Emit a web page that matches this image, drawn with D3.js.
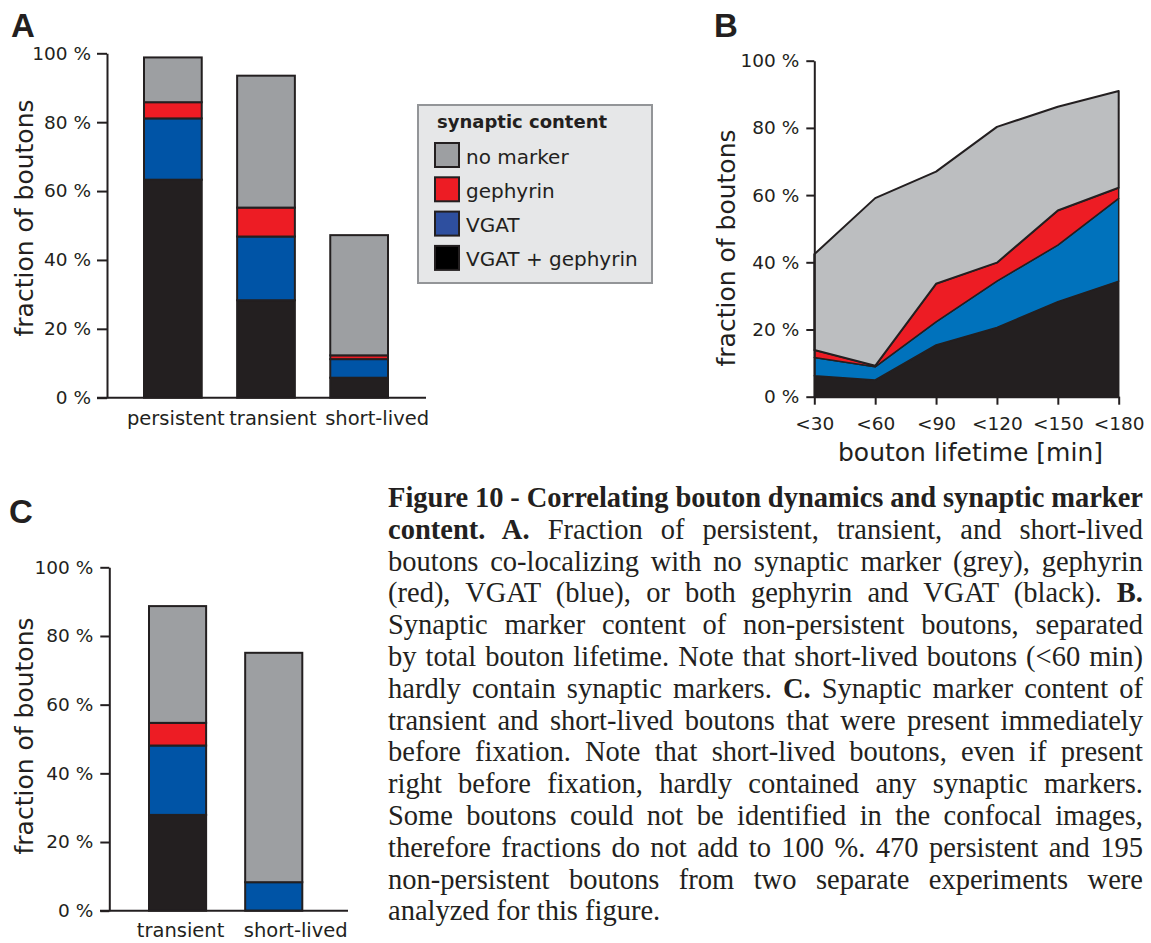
<!DOCTYPE html>
<html>
<head>
<meta charset="utf-8">
<script src="https://cdn.jsdelivr.net/npm/d3@7"></script>
<style>
  body { margin: 0; background: #fff; }
  text { fill: #231f20; }
  .tick text { font-family: "DejaVu Sans"; font-size: 18.5px; fill: #231f20; }
  .axisTitle { font-family: "DejaVu Sans"; font-size: 25px; }
  .cat { font-family: "DejaVu Sans"; font-size: 19.5px; }
  .panel { font-family: "Liberation Sans"; font-weight: bold; font-size: 33px; }
  .legendTitle { font-family: "DejaVu Sans"; font-weight: bold; font-size: 18px; }
  .legendLabel { font-family: "DejaVu Sans"; font-size: 20px; }
  .caption { font-family: "Liberation Serif"; font-size: 28.5px; white-space: pre; }
</style>
</head>
<body>
<div id="chart"></div>
<script>
/* DATA */
const keys = ["both", "vgat", "geph", "none"];
const keyLabels = {none: "no marker", geph: "gephyrin", vgat: "VGAT", both: "VGAT + gephyrin"};
const yTicks = [0, 20, 40, 60, 80, 100];

// panel A
const catsA = ["persistent", "transient", "short-lived"];
const bothA = [63.3, 28.3, 5.8];
const vgatA = [17.8, 18.5, 5.4];
const gephA = [4.7, 8.4, 1.1];
const noneA = [13.0, 38.3, 34.9];

// panel B
const catsB = ["<30", "<60", "<90", "<120", "<150", "<180"];
const bothB = [6.2, 5.0, 15.4, 20.6, 28.3, 34.4];
const vgatB = [5.5, 3.9, 6.9, 13.8, 16.8, 24.6];
const gephB = [2.2, 0.3, 11.3, 5.5, 10.3, 3.2];
const noneB = [28.5, 49.9, 33.4, 40.4, 30.9, 28.8];

// panel C
const catsC = ["transient", "short-lived"];
const bothC = [27.9, 0];
const vgatC = [20.2, 8.3];
const gephC = [6.6, 0];
const noneC = [34.0, 66.8];

const captionLines = [
  [["Figure 10 - Correlating bouton dynamics and synaptic marker", true]],
  [["content. A.", true], [" Fraction of persistent, transient, and short-lived", false]],
  [["boutons co-localizing with no synaptic marker (grey), gephyrin", false]],
  [["(red), VGAT (blue), or both gephyrin and VGAT (black). ", false], ["B.", true]],
  [["Synaptic marker content of non-persistent boutons, separated", false]],
  [["by total bouton lifetime. Note that short-lived boutons (<60 min)", false]],
  [["hardly contain synaptic markers. ", false], ["C.", true], [" Synaptic marker content of", false]],
  [["transient and short-lived boutons that were present immediately", false]],
  [["before fixation. Note that short-lived boutons, even if present", false]],
  [["right before fixation, hardly contained any synaptic markers.", false]],
  [["Some boutons could not be identified in the confocal images,", false]],
  [["therefore fractions do not add to 100 %. 470 persistent and 195", false]],
  [["non-persistent boutons from two separate experiments were", false]],
  [["analyzed for this figure.", false]]
];

/* COLOURS */
const barColor = {both: "#231f20", vgat: "#0054a6", geph: "#ed1c24", none: "#9d9fa2"};
const areaColor = {both: "#231f20", vgat: "#0072bc", geph: "#ed1c24", none: "#bcbec0"};
const legendColor = {both: "#000000", vgat: "#2e4f9f", geph: "#ed1c24", none: "#9d9fa2"};

/* SVG */
const width = 1151, height = 943;
const svg = d3.select("#chart").append("svg")
  .attr("width", width).attr("height", height);

function rows(cats, both, vgat, geph, none) {
  return cats.map((c, i) => ({cat: c, both: both[i], vgat: vgat[i], geph: geph[i], none: none[i]}));
}
const stack = d3.stack().keys(keys);

function yAxis(x, yScale, size, pad) {
  const g = svg.append("g")
    .attr("transform", `translate(${x},0)`)
    .call(d3.axisLeft(yScale).tickValues(yTicks).tickSize(size).tickSizeOuter(0)
      .tickPadding(pad).tickFormat(d => d + " %"));
  g.select(".domain").attr("stroke", "#231f20").attr("stroke-width", 2);
  g.selectAll(".tick line").attr("stroke", "#231f20").attr("stroke-width", 2);
  return g;
}

function yTitle(x, y) {
  svg.append("text").attr("class", "axisTitle")
    .attr("transform", `translate(${x},${y}) rotate(-90)`)
    .attr("text-anchor", "middle")
    .text("fraction of boutons");
}

function bars(data, xScale, yScale, labelY, dxs) {
  const series = stack(data);
  svg.append("g").selectAll("g")
    .data(series).enter().append("g")
      .attr("fill", d => barColor[d.key])
    .selectAll("rect")
    .data(d => d.filter(p => p[1] - p[0] > 0))
    .enter().append("rect")
      .attr("x", d => xScale(d.data.cat))
      .attr("width", xScale.bandwidth())
      .attr("y", d => yScale(d[1]))
      .attr("height", d => yScale(d[0]) - yScale(d[1]))
      .attr("stroke", "#231f20")
      .attr("stroke-width", 2);

  svg.append("g").selectAll("text")
    .data(data).enter().append("text")
      .attr("class", "cat")
      .attr("x", (d, i) => xScale(d.cat) + xScale.bandwidth() / 2 + dxs[i])
      .attr("y", labelY)
      .attr("text-anchor", "middle")
      .text(d => d.cat);
}

/* PANEL A */
const yA = d3.scaleLinear().domain([0, 100]).range([397.7, 53.3]);
const xA = d3.scaleBand().domain(catsA).range([144, 388]).paddingInner(0.38);
bars(rows(catsA, bothA, vgatA, gephA, noneA), xA, yA, 425, [3, 7, 18]);
svg.append("line").attr("x1", 97).attr("x2", 426).attr("y1", yA(0)).attr("y2", yA(0))
  .attr("stroke", "#231f20").attr("stroke-width", 2);
yAxis(107, yA, 10, 6);
yTitle(33, 218);
svg.append("text").attr("class", "panel").attr("x", 11).attr("y", 37).text("A");

/* LEGEND */
const legend = svg.append("g");
legend.append("rect").attr("x", 418).attr("y", 105).attr("width", 234).attr("height", 178)
  .attr("fill", "#e6e7e8").attr("stroke", "#939598").attr("stroke-width", 2);
legend.append("text").attr("class", "legendTitle").attr("x", 437).attr("y", 128).text("synaptic content");
const legendKeys = keys.slice().reverse();
const item = legend.selectAll(".item").data(legendKeys).enter().append("g")
  .attr("transform", (d, i) => `translate(435,${143 + i * 34.3})`);
item.append("rect").attr("width", 24).attr("height", 24)
  .attr("fill", d => legendColor[d]).attr("stroke", "#231f20").attr("stroke-width", 2);
item.append("text").attr("class", "legendLabel").attr("x", 31).attr("y", 20.5)
  .text(d => keyLabels[d]);

/* PANEL B */
const yB = d3.scaleLinear().domain([0, 100]).range([396.7, 60.7]);
const xB = d3.scalePoint().domain(catsB).range([814.3, 1118.7]);
const seriesB = stack(rows(catsB, bothB, vgatB, gephB, noneB));
const area = d3.area()
  .x(d => xB(d.data.cat))
  .y0(d => yB(d[0]))
  .y1(d => yB(d[1]));
svg.append("g").selectAll("path")
  .data(seriesB).enter().append("path")
    .attr("d", area)
    .attr("fill", d => areaColor[d.key])
    .attr("stroke", "#231f20")
    .attr("stroke-width", d => d.key === "none" ? 2 : 1.5)
    .attr("stroke-linejoin", "round");
const xAxisB = svg.append("g")
  .attr("transform", `translate(0,${yB(0)})`)
  .call(d3.axisBottom(xB).tickSize(8).tickSizeOuter(0).tickPadding(12));
xAxisB.select(".domain").attr("stroke", "#231f20").attr("stroke-width", 2);
xAxisB.selectAll(".tick line").attr("stroke", "#231f20").attr("stroke-width", 2);
yAxis(814.3, yB, 8, 7);
yTitle(735, 248);
svg.append("text").attr("class", "axisTitle")
  .attr("x", (xB.range()[0] + xB.range()[1]) / 2 + 4).attr("y", 461)
  .attr("text-anchor", "middle").text("bouton lifetime [min]");
svg.append("text").attr("class", "panel").attr("x", 714).attr("y", 37).text("B");

/* PANEL C */
const yC = d3.scaleLinear().domain([0, 100]).range([910.7, 567.3]);
const xC = d3.scaleBand().domain(catsC).range([149, 302.3]).paddingInner(0.406);
bars(rows(catsC, bothC, vgatC, gephC, noneC), xC, yC, 937, [3, 22]);
svg.append("line").attr("x1", 100).attr("x2", 348).attr("y1", yC(0)).attr("y2", yC(0))
  .attr("stroke", "#231f20").attr("stroke-width", 2);
yAxis(109.3, yC, 9, 7);
yTitle(33, 736);
svg.append("text").attr("class", "panel").attr("x", 9).attr("y", 523).text("C");

/* CAPTION */
const capX = 388, capW = 755, capY = 507, capLead = 31.8;
captionLines.forEach((runs, i) => {
  const t = svg.append("text").attr("class", "caption")
    .attr("x", capX).attr("y", capY + i * capLead);
  runs.forEach(r => {
    t.append("tspan").attr("font-weight", r[1] ? "bold" : "normal").text(r[0]);
  });
  if (i < captionLines.length - 1) {
    const w = t.node().getComputedTextLength();
    const full = runs.map(r => r[0]).join("");
    const spaces = (full.match(/ /g) || []).length;
    t.attr("word-spacing", (capW - w) / spaces);
  }
});
</script>
</body>
</html>
